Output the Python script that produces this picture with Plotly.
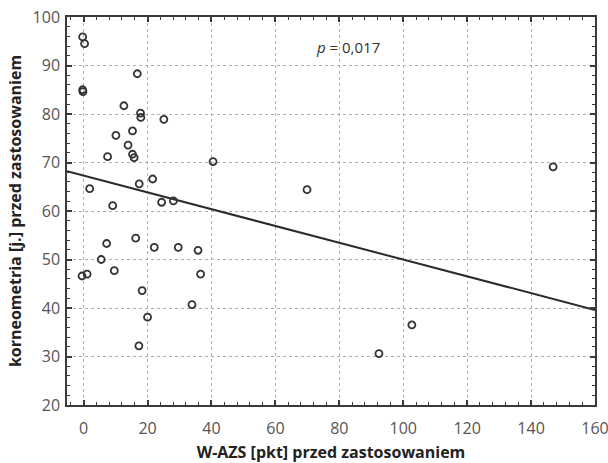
import plotly.graph_objects as go

# Data
waz_x = [-0.3, 0.3, -0.3, -0.2, 16.8, 12.6, 17.8, 17.9, 25.1, 10.1, 15.3, 13.9,
         15.3, 15.8, 7.5, 40.5, 1.9, 17.4, 21.6, 9.1, 24.4, 28.1, 7.2, 16.3,
         22.1, 29.6, 35.8, 5.5, -0.5, 1.1, 9.6, 36.6, 18.3, 33.9, 20.0, 17.3,
         69.9, 146.9, 102.7, 92.4]
korneo_y = [95.9, 94.5, 85.0, 84.6, 88.3, 81.7, 80.2, 79.3, 78.9, 75.6, 76.5, 73.6,
            71.7, 71.0, 71.2, 70.2, 64.6, 65.6, 66.6, 61.1, 61.8, 62.1, 53.3, 54.4,
            52.5, 52.5, 51.9, 50.0, 46.6, 47.0, 47.7, 47.0, 43.6, 40.7, 38.1, 32.2,
            64.4, 69.1, 36.5, 30.6]

fit_x = [-5.2, 160]
fit_y = [68.2, 39.6]

x_ticks = [0, 20, 40, 60, 80, 100, 120, 140, 160]
y_ticks = [20, 30, 40, 50, 60, 70, 80, 90, 100]

FONT = "Open Sans"
AX = "#3a3a3a"

fig = go.Figure()
fig.add_trace(go.Scatter(x=fit_x, y=fit_y, mode="lines",
                         line=dict(color="#2b2b2b", width=2), hoverinfo="skip"))
fig.add_trace(go.Scatter(x=waz_x, y=korneo_y, mode="markers",
                         marker=dict(symbol="circle-open", size=7, color="#333333",
                                     line=dict(width=1.8, color="#333333"))))

axis_common = dict(
    showline=True, linecolor=AX, linewidth=1.5, mirror="allticks",
    ticks="inside", ticklen=5, tickwidth=1.5, tickcolor=AX,
    showgrid=True, gridcolor="#b0b0b0", griddash="dot", gridwidth=1,
    zeroline=False, automargin=False, ticklabeloverflow="allow",
    tickfont=dict(family=FONT, size=16, color="#555555"),
)

fig.update_xaxes(**axis_common, range=[-5.2, 160], tickvals=x_ticks,
                 minor=dict(dtick=4, ticks="inside", ticklen=3, tickcolor=AX, tickwidth=1.2, showgrid=False),
                 title=dict(text="<b>W-AZS [pkt] przed zastosowaniem</b>",
                            font=dict(family=FONT, size=16, color="#222222"), standoff=14),
                 ticklabelstandoff=8)
fig.update_yaxes(**axis_common, range=[20, 100], tickvals=y_ticks,
                 minor=dict(dtick=2, ticks="inside", ticklen=3, tickcolor=AX, tickwidth=1.2, showgrid=False),
                 title=dict(text="<b>korneometria [j.] przed zastosowaniem</b>",
                            font=dict(family=FONT, size=16, color="#222222"), standoff=7),
                 ticklabelstandoff=2)

fig.add_annotation(x=82.7, y=93.8, xref="x", yref="y", showarrow=False,
                   text="<i>p</i> = 0,017",
                   font=dict(family=FONT, size=15, color="#333333"))

fig.update_layout(
    width=608, height=463,
    margin=dict(l=67, r=13, t=17, b=58),
    plot_bgcolor="white", paper_bgcolor="white",
    showlegend=False,
)

fig.write_html("out.html")
